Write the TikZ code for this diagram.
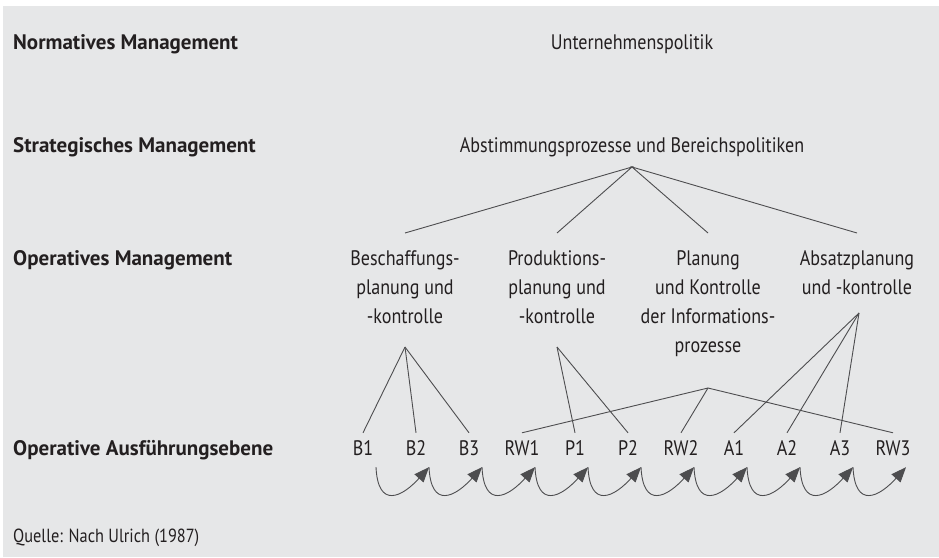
\documentclass[tikz,border=0pt]{standalone}
\usepackage{fontspec}
\setmainfont[FakeStretch=0.86,BoldFeatures={FakeStretch=1.0}]{PT Sans}
\usetikzlibrary{arrows.meta}
\definecolor{bg}{HTML}{E6E7E8}
\definecolor{ink}{HTML}{231F20}
\definecolor{ln}{HTML}{4D4D4F}
\tikzset{
  txt/.style={text=ink, inner sep=0pt, font=\fontsize{21}{29}\selectfont},
  rowlab/.style={txt, anchor=base west, font=\fontsize{21}{29}\selectfont\bfseries},
  optxt/.style={txt, anchor=north, align=center},
  lab/.style={txt, anchor=base, inner xsep=2pt, inner ysep=0pt, text height=22pt, text depth=12pt},
  conn/.style={draw=ln, line width=0.9pt},
  arc/.style={draw=ln, line width=0.9pt, -{Triangle[length=15pt,width=12pt]}, fill=none},
}
\begin{document}
\begin{tikzpicture}[x=1pt,y=-1pt]
\useasboundingbox (0,0) rectangle (939,557);
\fill[bg] (3,6) rectangle (939,557);

% row labels
\node[rowlab] (rnm) at (13,49.5) {Normatives Management};
\node[rowlab] (rsm) at (13,152.5) {Strategisches Management};
\node[rowlab] (rom) at (13,265.5) {Operatives Management};
\node[rowlab] (roa) at (13,455) {Operative Ausführungsebene};
\node[txt, anchor=base west, font=\fontsize{19}{24}\selectfont] (src) at (13,542) {Quelle: Nach Ulrich (1987)};

% upper levels
\node[txt, anchor=base] (up) at (632,49.5) {Unternehmenspolitik};
\node[txt, anchor=base] (abst) at (632,152.5) {Abstimmungsprozesse und Bereichspolitiken};

\coordinate (t0) at (632,167);
\coordinate (t1) at (405,233);
\coordinate (t2) at (557,233);
\coordinate (t3) at (708,233);
\coordinate (t4) at (857,233);
\draw[conn] (t1) -- (t0) -- (t2);
\draw[conn] (t3) -- (t0) -- (t4);

% operative management
\node[optxt] (besch) at (405,250) {Beschaffungs-\\planung und\\-kontrolle};
\node[optxt] (prod) at (557,250) {Produktions-\\planung und\\-kontrolle};
\node[optxt] (info) at (708,250) {Planung\\und Kontrolle\\der Informations-\\prozesse};
\node[optxt] (abs) at (857,250) {Absatzplanung\\und -kontrolle};

\coordinate (ab) at (405,347);
\coordinate (ap) at (557,347);
\coordinate (ai) at (708,388);
\coordinate (aa) at (859,313);

% execution level
\node[lab] (B1) at (363,455) {B1};
\node[lab] (B2) at (416,455) {B2};
\node[lab] (B3) at (469,455) {B3};
\node[lab] (RW1) at (522,455) {RW1};
\node[lab] (P1) at (575,455) {P1};
\node[lab] (P2) at (628,455) {P2};
\node[lab] (RW2) at (681,455) {RW2};
\node[lab] (A1) at (734,455) {A1};
\node[lab] (A2) at (787,455) {A2};
\node[lab] (A3) at (840,455) {A3};
\node[lab] (RW3) at (893,455) {RW3};

\draw[conn] (ab) -- (B1.north);
\draw[conn] (ab) -- (B2.north);
\draw[conn] (ab) -- (B3.north);
\draw[conn] (ap) -- (P1.north);
\draw[conn] (ap) -- (P2.north);
\draw[conn] (ai) -- (RW1.north);
\draw[conn] (ai) -- (RW2.north);
\draw[conn] (ai) -- (RW3.north);
\draw[conn] (aa) -- (A1.north);
\draw[conn] (aa) -- (A2.north);
\draw[conn] (aa) -- (A3.north);

% sequence arcs
\foreach \a/\b in {B1/B2,B2/B3,B3/RW1,RW1/P1,P1/P2,P2/RW2,RW2/A1,A1/A2,A2/A3,A3/RW3}{
  \draw[arc] ([xshift=13pt]\a.south) .. controls +(2,42) and +(-27,30) .. ([xshift=13pt]\b.south);
}
\end{tikzpicture}
\end{document}
